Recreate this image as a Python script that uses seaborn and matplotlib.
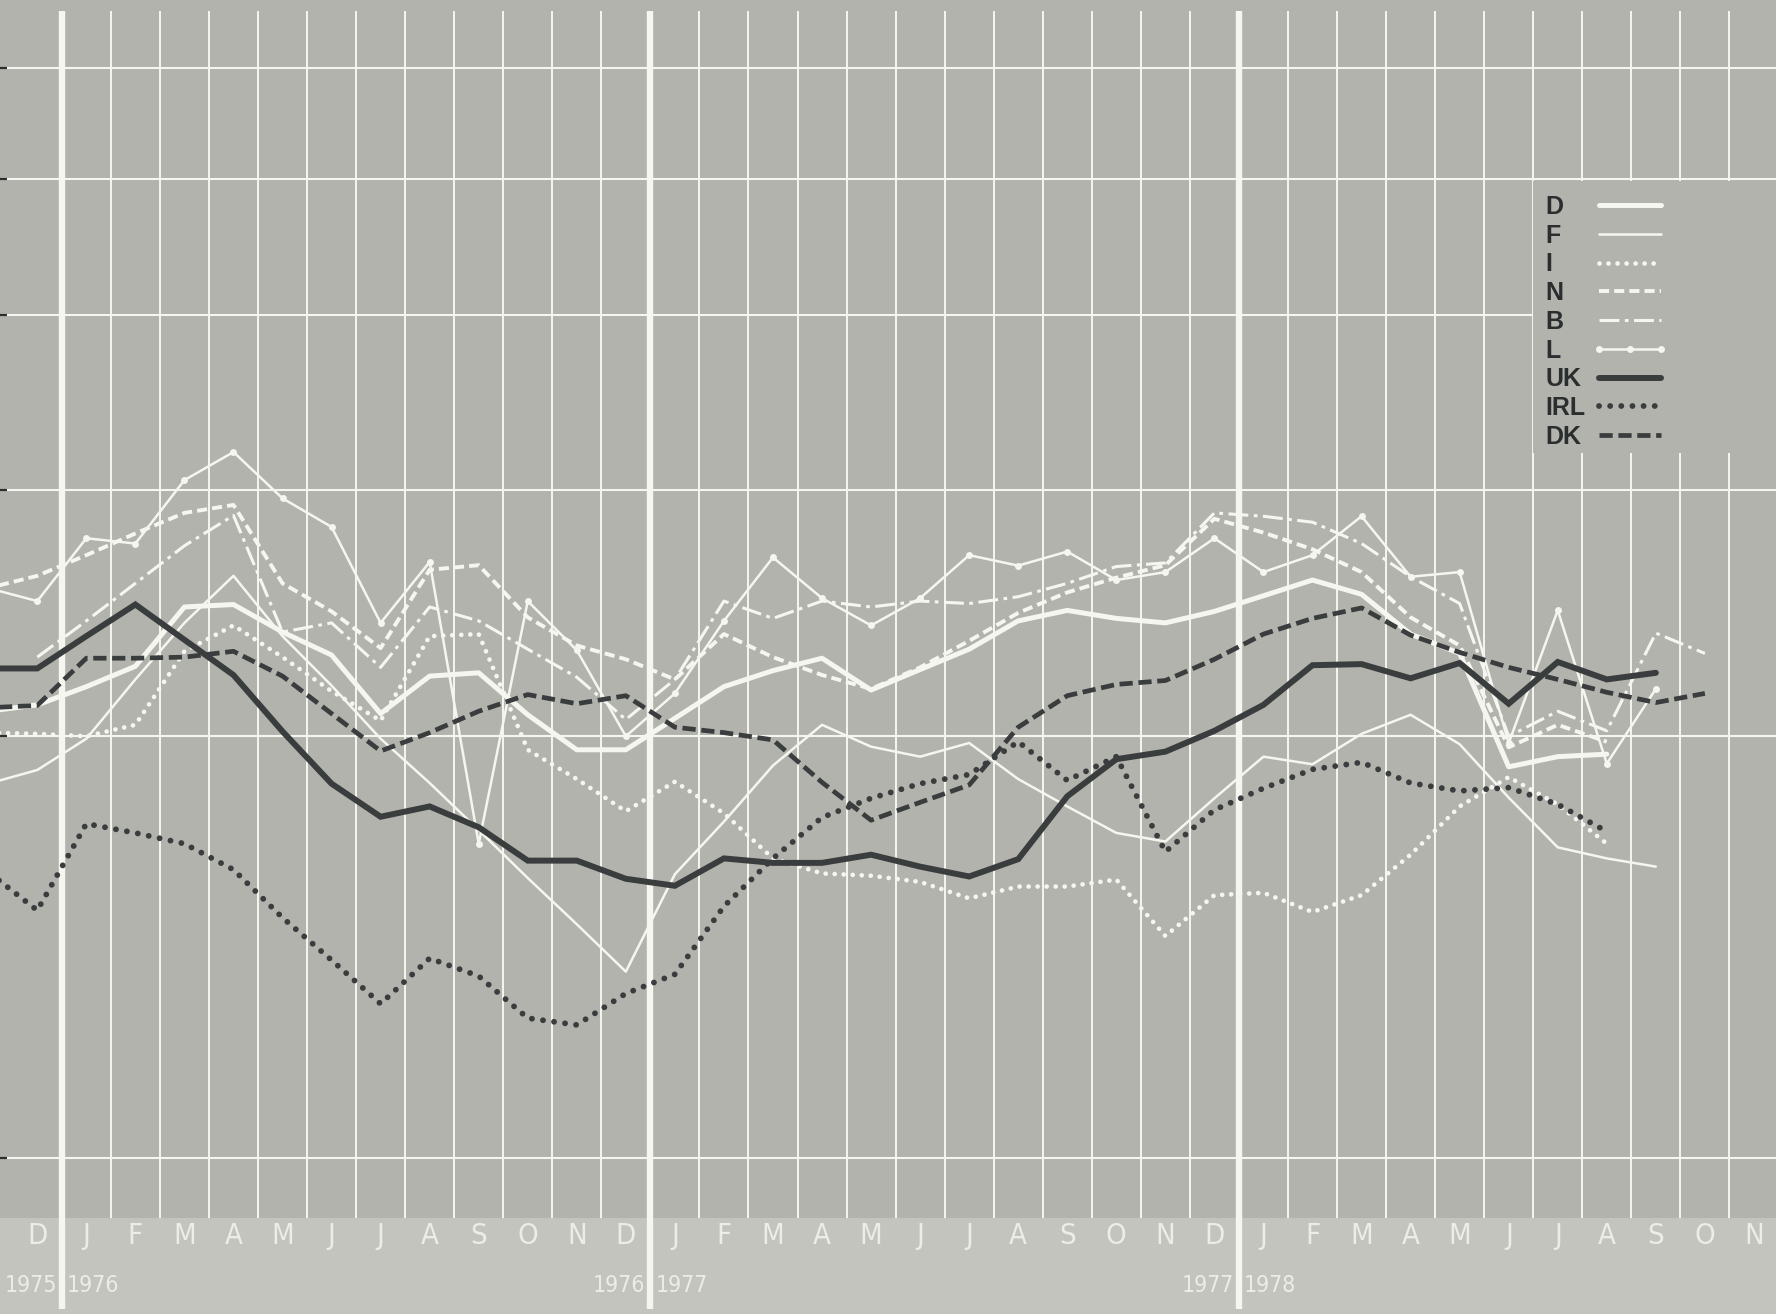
import numpy as np
import matplotlib
matplotlib.use('Agg')
import matplotlib.pyplot as plt
import matplotlib.transforms as mtransforms
from matplotlib import font_manager
from matplotlib.lines import Line2D
from matplotlib.patches import Rectangle
from matplotlib.ticker import NullLocator, NullFormatter
import seaborn as sns

nan = np.nan

# month positions: 0 = Dec 1975 ... 35 = Nov 1978, -1 = Nov 1975 (cut by left edge)
month_pos = np.arange(-1, 36)
month_labels = ['D'] + list('JFMAMJJASOND') * 2 + list('JFMAMJJASON')
year_breaks = [0.5, 12.5, 24.5]
year_left = ['1975', '1976', '1977']
year_right = ['1976', '1977', '1978']

# values (log scale, gridlines at 5..30)
D = [10.42, 10.53, 10.85, 11.22, 12.37, 12.42, 11.87, 11.43, 10.38, 11.04, 11.10, 10.36,
     9.78, 9.78, 10.30, 10.85, 11.14, 11.37, 10.79, 11.16, 11.54, 12.09, 12.30, 12.14,
     12.05, 12.28, 12.60, 12.93, 12.63, 11.83, 11.46, 9.51, 9.67, 9.71, nan, nan, nan]
F = [9.25, 9.46, 9.96, 10.98, 12.05, 13.02, 11.79, 10.87, 9.96, 9.26, 8.57, 7.92,
     7.34, 6.79, 7.97, 8.69, 9.53, 10.19, 9.83, 9.67, 9.89, 9.32, 8.91, 8.53,
     8.41, 9.03, 9.67, 9.55, 10.04, 10.36, 9.87, 9.04, 8.33, 8.18, 8.07, nan, nan]
I = [10.06, 10.04, 10.00, 10.19, 11.50, 12.00, 11.39, 10.77, 10.26, 11.79, 11.83, 9.78,
     9.32, 8.84, 9.28, 8.81, 8.18, 7.98, 7.95, 7.87, 7.66, 7.81, 7.81, 7.90,
     7.20, 7.70, 7.73, 7.49, 7.70, 8.23, 8.91, 9.35, 8.94, 8.38, nan, nan, nan]
N = [12.76, 13.02, 13.47, 13.96, 14.44, 14.63, 12.86, 12.28, 11.56, 13.15, 13.25, 12.16,
     11.61, 11.35, 10.98, 11.83, 11.39, 11.06, 10.81, 11.20, 11.70, 12.25, 12.67, 12.98,
     13.25, 14.30, 13.98, 13.60, 13.10, 12.16, 11.61, 9.82, 10.19, 9.91, nan, nan, nan]
B = [nan, 11.39, 12.09, 12.86, 13.68, 14.38, 11.87, 12.05, 11.20, 12.37, 12.09, 11.54,
     11.02, 10.28, 10.98, 12.49, 12.14, 12.49, 12.37, 12.49, 12.44, 12.58, 12.86, 13.22,
     13.30, 14.44, 14.36, 14.22, 13.73, 13.00, 12.44, 10.00, 10.42, 10.09, 11.85, 11.46, nan]
L = [12.76, 12.49, 13.85, 13.73, 15.24, 15.96, 14.79, 14.11, 12.05, 13.32, 8.38, 12.49,
     11.52, 10.00, 10.73, 12.09, 13.42, 12.55, 12.00, 12.55, 13.47, 13.24, 13.55, 12.93,
     13.10, 13.85, 13.10, 13.47, 14.36, 13.00, 13.10, 9.89, 12.30, 9.56, 10.81, nan, nan]
UK = [11.18, 11.18, 11.79, 12.42, 11.72, 11.06, 10.08, 9.25, 8.76, 8.91, 8.61, 8.15,
      8.15, 7.91, 7.82, 8.18, 8.12, 8.12, 8.23, 8.07, 7.94, 8.17, 9.06, 9.63,
      9.75, 10.09, 10.53, 11.24, 11.26, 11.00, 11.28, 10.55, 11.30, 10.98, 11.10, nan, nan]
IRL = [8.00, 7.51, 8.66, 8.53, 8.38, 8.03, 7.42, 6.92, 6.44, 6.94, 6.74, 6.29,
       6.22, 6.55, 6.76, 7.56, 8.18, 8.75, 9.03, 9.25, 9.39, 9.91, 9.30, 9.67,
       8.27, 8.86, 9.18, 9.47, 9.58, 9.26, 9.14, 9.19, 8.94, 8.55, nan, nan, nan]
DK = [10.48, 10.52, 11.37, 11.37, 11.39, 11.50, 11.04, 10.38, 9.76, 10.06, 10.42, 10.71,
      10.55, 10.69, 10.15, 10.06, 9.94, 9.27, 8.71, 8.97, 9.23, 10.15, 10.69, 10.89,
      10.96, 11.35, 11.83, 12.14, 12.35, 11.81, 11.48, 11.20, 10.98, 10.75, 10.57, 10.73, nan]

WHITE = '#f6f6f1'
DARK = '#3a3d3d'
BG = '#b3b3ae'
BAND = '#c4c4bf'
LABEL = '#ededE8'

series = [
    ('D', D, dict(color=WHITE, lw=3.6, solid_capstyle='round')),
    ('F', F, dict(color=WHITE, lw=1.8)),
    ('I', I, dict(color=WHITE, lw=3.4, linestyle=(0, (0.01, 1.9)), dash_capstyle='round')),
    ('N', N, dict(color=WHITE, lw=2.8, linestyle=(0, (2.6, 1.3)))),
    ('B', B, dict(color=WHITE, lw=2.2, linestyle=(0, (6.5, 1.8, 1.2, 1.8)))),
    ('L', L, dict(color=WHITE, lw=1.8, marker='o', markersize=5, markeredgewidth=0)),
    ('UK', UK, dict(color=DARK, lw=4.3, solid_joinstyle='miter')),
    ('IRL', IRL, dict(color=DARK, lw=4.2, linestyle=(0, (0.01, 1.9)), dash_capstyle='round')),
    ('DK', DK, dict(color=DARK, lw=3.4, linestyle=(0, (2.8, 1.2)))),
]

# a narrow face for the axis lettering if one is around
names = {f.name for f in font_manager.fontManager.ttflist}
if 'Liberation Sans Narrow' in names:
    narrow = dict(fontfamily='Liberation Sans Narrow')
    year_size = 19
else:
    narrow = dict(fontfamily='DejaVu Sans', fontstretch='condensed')
    year_size = 16.5

sns.set_style('white')
fig = plt.figure(figsize=(17.76, 13.14), dpi=100, facecolor=BAND)
ax = fig.add_axes([0, 0.0733, 1, 0.9267])
ax.set_facecolor(BG)
for s in ax.spines.values():
    s.set_visible(False)

ax.set_yscale('log')
ax.set_ylim(4.53, 33.57)
ax.set_xlim(-0.76, 35.45)

# horizontal grid + little tick marks on the left edge
ax.set_yticks([5, 10, 15, 20, 25, 30])
ax.yaxis.set_minor_locator(NullLocator())
ax.yaxis.set_minor_formatter(NullFormatter())
ax.set_yticklabels([])
ax.grid(axis='y', color=WHITE, lw=1.5, zorder=0.5)
ax.set_axisbelow(True)
ax.tick_params(axis='y', direction='in', length=5, width=1.6, color='#2c2f2f', left=True)

# month grid lines
trans = mtransforms.blended_transform_factory(ax.transData, ax.transAxes)
thin = [p + 0.5 for p in range(0, 35) if p + 0.5 not in year_breaks]
ax.vlines(thin, 0, 0.991, transform=trans, color=WHITE, lw=1.4, zorder=0.6)
ax.vlines(year_breaks, -0.075, 0.991, transform=trans, color=WHITE, lw=4.6,
          zorder=0.6, clip_on=False)

# month labels
ax.set_xticks(np.arange(len(month_labels)))
ax.set_xticklabels(month_labels, fontsize=21, color=LABEL, **narrow)
ax.tick_params(axis='x', length=0, pad=3)

for xb, yl, yr in zip(year_breaks, year_left, year_right):
    ax.text(xb - 0.1, -0.056, yl, transform=trans, ha='right', va='center',
            fontsize=year_size, color=LABEL, **narrow)
    ax.text(xb + 0.1, -0.056, yr, transform=trans, ha='left', va='center',
            fontsize=year_size, color=LABEL, **narrow)

# the series
for name, vals, kw in series:
    sns.lineplot(x=month_pos, y=vals, ax=ax, label=name, errorbar=None, **kw)

handles, labels = ax.get_legend_handles_labels()
if ax.get_legend():
    ax.get_legend().remove()

# grey patch behind the key (covers the grid there)
ax.add_patch(Rectangle((0.8633, 0.628), 0.14, 0.2235, transform=ax.transAxes,
                       facecolor=BG, edgecolor='none', zorder=0.8))

key_font = {'family': 'Liberation Sans', 'weight': 'bold', 'size': 18}
common = dict(loc='upper left', frameon=False, labelspacing=0.19, borderpad=0,
              borderaxespad=0, prop=key_font)
# names, left aligned
blank = [Line2D([], [], linestyle='none') for _ in labels]
leg_txt = ax.legend(blank, labels, bbox_to_anchor=(0.870, 0.840), handlelength=0,
                    handletextpad=0, labelcolor='#2b2e2e', **common)
ax.add_artist(leg_txt)
# line samples
ax.legend(handles, [' '] * len(handles), bbox_to_anchor=(0.896, 0.840),
          handlelength=3.1, handletextpad=0, numpoints=3, **common)

fig.savefig('out.png', dpi=100, facecolor=BAND)
